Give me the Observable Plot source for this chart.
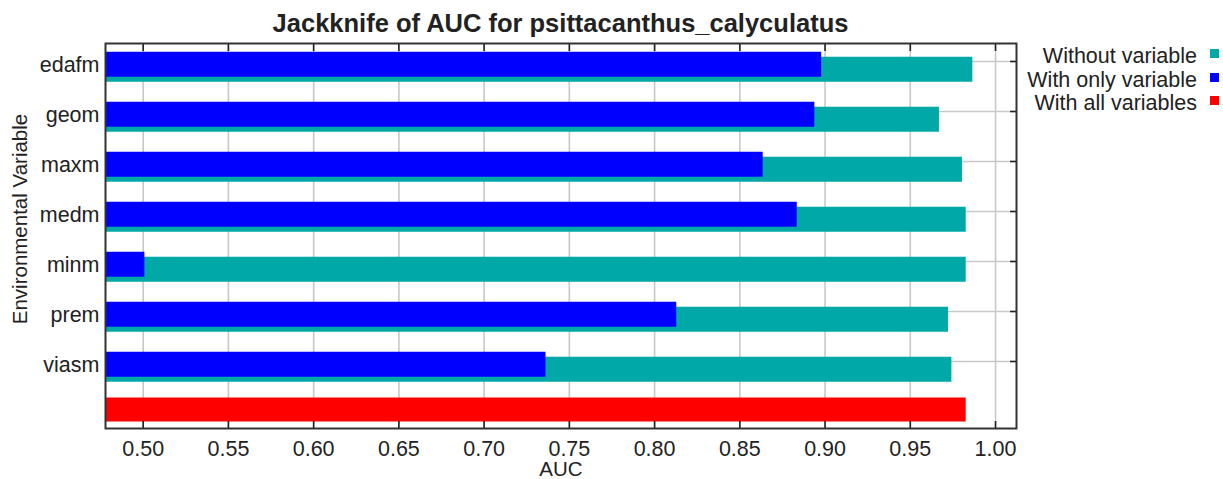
<!DOCTYPE html>
<html>
<head>
<meta charset="utf-8">
<script src="https://cdn.jsdelivr.net/npm/d3@7"></script>
<script src="https://cdn.jsdelivr.net/npm/@observablehq/plot@0.6"></script>
<style>
  html, body { margin: 0; padding: 0; background: #fff; }
  #wrap { position: relative; width: 1223px; height: 479px; font-family: "Liberation Sans", Arial, sans-serif; color: #222; }
  #title { position: absolute; z-index: 2; left: 105px; width: 911px; top: 9px; text-align: center; font-weight: bold; font-size: 25.5px; line-height: 28px; }
  #legend { position: absolute; z-index: 2; right: 4px; top: 45px; font-size: 21.5px; line-height: 23.5px; }
  .row { display: flex; justify-content: flex-end; align-items: center; }
  .sw { display: inline-block; width: 9px; height: 9px; margin-left: 13px; position: relative; top: -3px; }
  #chart { position: absolute; z-index: 1; left: 0; top: 38px; }
</style>
</head>
<body>
<div id="wrap">
  <div id="title">Jackknife of AUC for psittacanthus_calyculatus</div>
  <div id="legend"></div>
  <div id="chart"></div>
</div>
<script>
// ---- data ----
const variables = ["edafm", "geom", "maxm", "medm", "minm", "prem", "viasm"];
const withoutVariable = [0.9867, 0.9671, 0.9806, 0.9828, 0.9828, 0.9724, 0.9744];
const withOnlyVariable = [0.898, 0.894, 0.8637, 0.8837, 0.501, 0.813, 0.7363];
const allVariablesLabel = "With all variables";
const withAllVariables = [0.9828];
const xTicks = [0.50, 0.55, 0.60, 0.65, 0.70, 0.75, 0.80, 0.85, 0.90, 0.95, 1.00];
const xDomain = [0.4779, 1.0123];
const xLabel = "AUC";
const yLabel = "Environmental Variable";
const seriesNames = ["Without variable", "With only variable", "With all variables"];
const seriesColors = ["#00A8A8", "#0000FF", "#FF0000"];

// ---- tables ----
const without = variables.map((v, i) => ({variable: v, value: withoutVariable[i]}));
const only = variables.map((v, i) => ({variable: v, value: withOnlyVariable[i]}));
const all = withAllVariables.map(v => ({variable: allVariablesLabel, value: v}));
const xmin = xDomain[0];

const plot = Plot.plot({
  width: 1223,
  height: 441,
  marginTop: 5,
  marginBottom: 51,
  marginLeft: 105,
  marginRight: 207,
  style: {fontFamily: "Liberation Sans, Arial, sans-serif", fontSize: "21.5px", color: "#222", background: "transparent"},
  x: {domain: xDomain},
  y: {type: "point", domain: [...variables, allVariablesLabel], padding: 0, insetTop: 17.7, insetBottom: 15.9},
  marks: [
    Plot.gridX(xTicks, {stroke: "#c8c8c8", strokeOpacity: 1, strokeWidth: 1.6}),
    Plot.gridY(variables, {stroke: "#c8c8c8", strokeOpacity: 1, strokeWidth: 1.6}),
    Plot.ruleY(without, {y: "variable", x1: d => xmin, x2: "value", stroke: seriesColors[0], strokeWidth: 25, dy: 7.8}),
    Plot.ruleY(only, {y: "variable", x1: d => xmin, x2: "value", stroke: seriesColors[1], strokeWidth: 25, dy: 2.8}),
    Plot.ruleY(all, {y: "variable", x1: d => xmin, x2: "value", stroke: seriesColors[2], strokeWidth: 24, dy: -2}),
    // inward ticks
    Plot.axisX(xTicks, {anchor: "bottom", tickSize: -7, fill: "none", stroke: "#222", strokeWidth: 1.6}),
    Plot.axisX(xTicks, {anchor: "top", tickSize: -7, fill: "none", stroke: "#222", strokeWidth: 1.6}),
    Plot.axisY(variables, {anchor: "right", tickSize: -7, fill: "none", stroke: "#222", strokeWidth: 1.6}),
    // tick labels
    Plot.axisX(xTicks, {anchor: "bottom", tickSize: 0, tickPadding: 12, tickFormat: d3.format(".2f"), fill: "#222", label: null}),
    Plot.axisY(variables, {anchor: "left", tickSize: 0, tickPadding: 6, dy: 4, fill: "#222", label: null}),
    // axis titles
    Plot.text([xLabel], {text: d => d, frameAnchor: "bottom", textAnchor: "middle", lineAnchor: "top", dy: 33, fontSize: 20.5, fill: "#222"}),
    Plot.text([yLabel], {text: d => d, frameAnchor: "left", textAnchor: "middle", lineAnchor: "middle", rotate: -90, dx: -85, dy: -17, fontSize: 20.5, fill: "#222"}),
    Plot.frame({stroke: "#333", strokeWidth: 2})
  ]
});
document.getElementById("chart").appendChild(plot);

// legend
const legend = document.getElementById("legend");
seriesNames.forEach((name, i) => {
  const row = document.createElement("div");
  row.className = "row";
  const t = document.createElement("span");
  t.textContent = name;
  const s = document.createElement("span");
  s.className = "sw";
  s.style.background = seriesColors[i];
  row.appendChild(t);
  row.appendChild(s);
  legend.appendChild(row);
});
</script>
</body>
</html>
